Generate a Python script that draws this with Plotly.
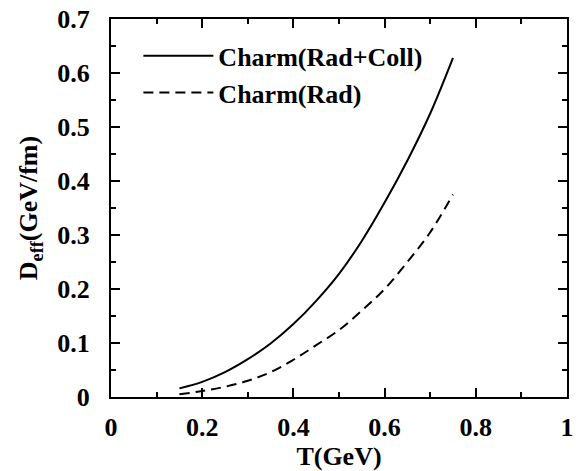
import plotly.graph_objects as go

T = [0.15, 0.20, 0.25, 0.30, 0.35, 0.40, 0.45, 0.50, 0.55, 0.60, 0.65, 0.70, 0.75]
rad_coll = [0.016, 0.028, 0.046, 0.070, 0.099, 0.135, 0.178, 0.228, 0.289, 0.360, 0.438, 0.525, 0.628]
rad = [0.005, 0.011, 0.019, 0.030, 0.046, 0.069, 0.096, 0.124, 0.160, 0.200, 0.250, 0.305, 0.375]
x_ticks = [0, 0.2, 0.4, 0.6, 0.8, 1]
x_tick_text = ["0", "0.2", "0.4", "0.6", "0.8", "1"]
y_ticks = [0, 0.1, 0.2, 0.3, 0.4, 0.5, 0.6, 0.7]
y_tick_text = ["0", "0.1", "0.2", "0.3", "0.4", "0.5", "0.6", "0.7"]

FONT = "Liberation Serif"

fig = go.Figure()
fig.add_trace(go.Scatter(x=T, y=rad_coll, mode="lines", name="<b>Charm(Rad+Coll)</b>",
                         line=dict(color="black", width=2, shape="spline")))
fig.add_trace(go.Scatter(x=T, y=rad, mode="lines", name="<b>Charm(Rad)</b>",
                         line=dict(color="black", width=2, dash="10px,6px", shape="spline")))

axis_common = dict(
    showline=True, linecolor="black", linewidth=2, mirror="ticks",
    ticks="inside", ticklen=9, tickwidth=1.5, tickcolor="black",
    showgrid=False, zeroline=False,
    ticklabeloverflow="allow",
    tickfont=dict(family=FONT, size=26, color="black"),
)

fig.update_xaxes(range=[0, 1.000001], tickmode="array", tickvals=x_ticks,
                 ticktext=["<b>%s</b>" % t for t in x_tick_text],
                 minor=dict(dtick=0.1, tick0=0, ticks="inside", ticklen=5, tickwidth=1.5, tickcolor="black"),
                 title=dict(text="<b>T(GeV)</b>", font=dict(family=FONT, size=26, color="black"), standoff=6),
                 ticklabelstandoff=6,
                 **axis_common)
fig.update_yaxes(range=[0, 0.700001], tickmode="array", tickvals=y_ticks,
                 ticktext=["<b>%s</b>" % t for t in y_tick_text],
                 minor=dict(dtick=0.05, tick0=0, ticks="inside", ticklen=5, tickwidth=1.5, tickcolor="black"),
                 title=dict(text="<b>D<sub>eff</sub>(GeV/fm)</b>", font=dict(family=FONT, size=26, color="black"), standoff=12),
                 ticklabelstandoff=14,
                 **axis_common)

fig.update_layout(
    width=579, height=471,
    margin=dict(l=111, r=5, t=13, b=73, pad=0),
    paper_bgcolor="white", plot_bgcolor="white",
    font=dict(family=FONT, size=26, color="black"),
    showlegend=True,
    legend=dict(x=0.06, y=0.965, xanchor="left", yanchor="top",
                bgcolor="rgba(0,0,0,0)", borderwidth=0,
                font=dict(family=FONT, size=26, color="black"),
                itemwidth=70, tracegroupgap=0),
)

fig.write_html("out.html")
